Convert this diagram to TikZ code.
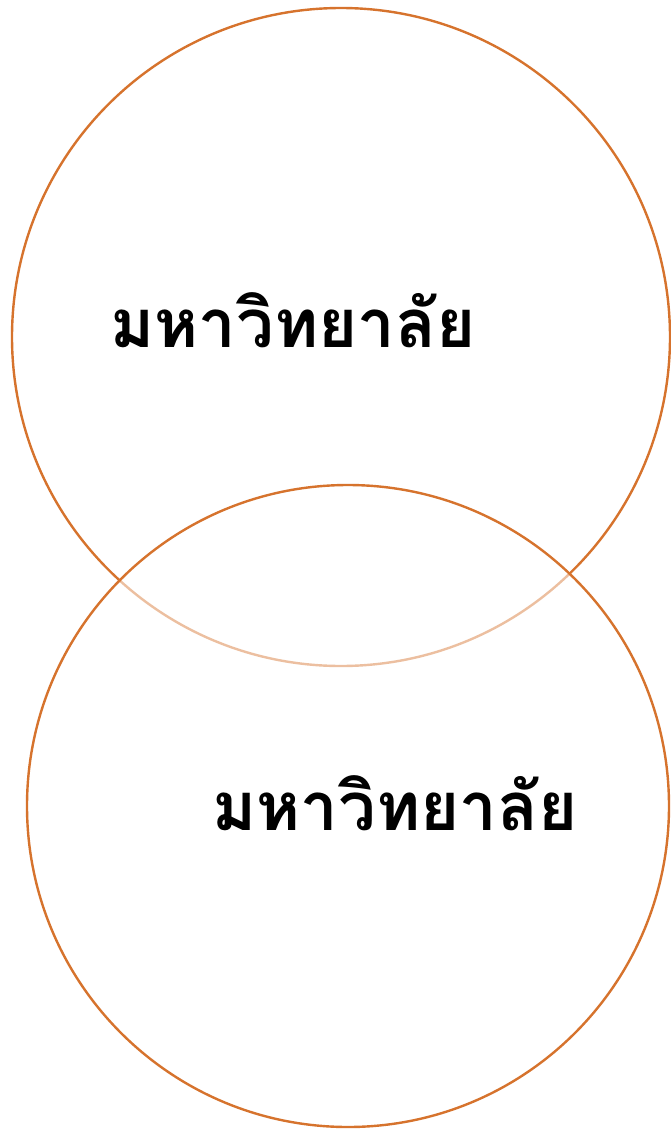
\documentclass[tikz,border=0pt]{standalone}
\usepackage{fontspec}
\usepackage{tikz}
\usetikzlibrary{positioning}
\newfontfamily\thaifont[Script=Thai]{Loma}
\definecolor{rim}{HTML}{D6732D}

\begin{document}
\begin{tikzpicture}[x=1pt, y=-1pt,
  ring/.style={circle, draw=rim, line width=2.4pt, inner sep=0pt},
  label/.style={font=\thaifont\bfseries\fontsize{67}{72}\selectfont, text=black, inner sep=0pt}
]
  \useasboundingbox (0,0) rectangle (671,1130);

  \node[ring, minimum size=658pt] (upper) at (341,337) {};
  \node[ring, minimum size=642pt, fill=white, fill opacity=0.55] (lower) at (348,806) {};

  \node[label] (t1) at (293,320) {มหาวิทยาลัย};
  \node[label] (t2) at (395,803) {มหาวิทยาลัย};
\end{tikzpicture}
\end{document}
